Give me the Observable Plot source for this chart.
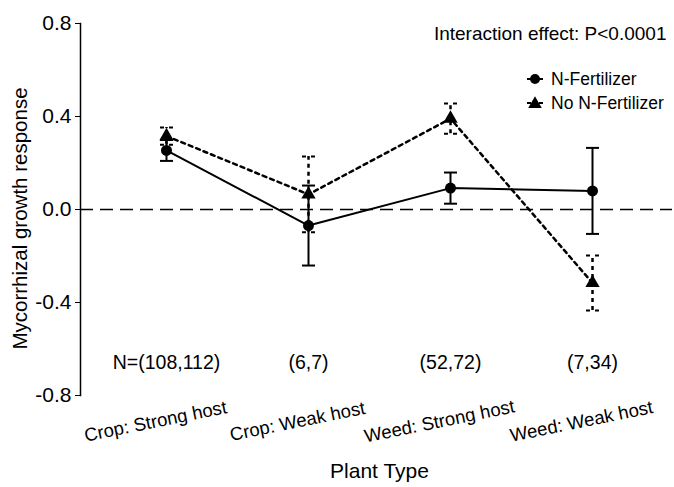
<!DOCTYPE html>
<html>
<head>
<meta charset="utf-8">
<script src="https://cdn.jsdelivr.net/npm/d3@7"></script>
<script src="https://cdn.jsdelivr.net/npm/@observablehq/plot@0.6"></script>
<style>
  html, body { margin: 0; padding: 0; background: #fff; }
  #chart svg { font-family: "Liberation Sans", Arial, Helvetica, sans-serif; }
</style>
</head>
<body>
<div id="chart"></div>
<script>
// ---- data ----
const categories = ["Crop: Strong host", "Crop: Weak host", "Weed: Strong host", "Weed: Weak host"];
const nFertMean = [0.254, -0.069, 0.092, 0.080];
const nFertErr  = [0.045, 0.172, 0.067, 0.185];
const noFertMean = [0.316, 0.065, 0.391, -0.316];
const noFertErr  = [0.037, 0.163, 0.065, 0.118];
const sampleSizes = ["N=(108,112)", "(6,7)", "(52,72)", "(7,34)"];
const yTicks = [-0.8, -0.4, 0, 0.4, 0.8];
const seriesNames = ["N-Fertilizer", "No N-Fertilizer"];
const annotation = "Interaction effect: P<0.0001";

const fert = categories.map((c, i) => ({cat: c, mean: nFertMean[i], lo: nFertMean[i] - nFertErr[i], hi: nFertMean[i] + nFertErr[i]}));
const nofert = categories.map((c, i) => ({cat: c, mean: noFertMean[i], lo: noFertMean[i] - noFertErr[i], hi: noFertMean[i] + noFertErr[i]}));
const nLabels = categories.map((c, i) => ({cat: c, label: sampleSizes[i]}));

const dotted = "4,4";

// horizontal-line symbol for error-bar caps (half-width = r)
const capSymbol = {
  draw(context, size) {
    const w = Math.sqrt(size / Math.PI);
    context.moveTo(-w, 0);
    context.lineTo(w, 0);
  }
};

function legend(index, scales, values, dim) {
  const g = d3.create("svg:g");
  const x0 = dim.width - 147, rows = [79, 103];
  rows.forEach((y, i) => {
    g.append("line").attr("x1", x0).attr("x2", x0 + 16).attr("y1", y).attr("y2", y)
      .attr("stroke", "black").attr("stroke-width", 2)
      .attr("stroke-dasharray", i === 1 ? "4,2" : null);
    if (i === 0) {
      g.append("circle").attr("cx", x0 + 8).attr("cy", y).attr("r", 5).attr("fill", "black");
    } else {
      g.append("path").attr("transform", `translate(${x0 + 8},${y + 1})`)
        .attr("d", d3.symbol(d3.symbolTriangle, 80)()).attr("fill", "black");
    }
    g.append("text").attr("x", x0 + 24).attr("y", y).attr("dy", "0.35em")
      .attr("text-anchor", "start")
      .attr("font-size", 17.5).attr("fill", "black").text(seriesNames[i]);
  });
  return g.node();
}

const chart = Plot.plot({
  width: 674,
  height: 487,
  marginTop: 23,
  marginBottom: 92,
  marginLeft: 80,
  marginRight: 2,
  style: {fontFamily: "'Liberation Sans', Arial, sans-serif", color: "black"},
  x: {type: "point", domain: categories, range: [166, 592], padding: 0, axis: null},
  y: {domain: [-0.8, 0.8], axis: null},
  marks: [
    Plot.frame({anchor: "left", strokeWidth: 1.5}),
    Plot.axisY({
      ticks: yTicks, tickFormat: d => d.toFixed(1), tickSize: 5, tickPadding: 4,
      fontSize: 21, label: null
    }),
    Plot.text(["Mycorrhizal growth response"], {
      frameAnchor: "left", rotate: -90, dx: -60, dy: 9, fontSize: 20.5, textAnchor: "middle", lineAnchor: "middle"
    }),
    Plot.ruleY([0], {strokeDasharray: "13,7", strokeWidth: 1.5}),
    // error bars: N-Fertilizer (solid)
    Plot.ruleX(fert, {x: "cat", y1: "lo", y2: "hi", strokeWidth: 2}),
    Plot.dot(fert, {x: "cat", y: "lo", symbol: capSymbol, r: 6.5, stroke: "black", fill: "none", strokeWidth: 2}),
    Plot.dot(fert, {x: "cat", y: "hi", symbol: capSymbol, r: 6.5, stroke: "black", fill: "none", strokeWidth: 2}),
    // error bars: No N-Fertilizer (dotted)
    Plot.ruleX(nofert, {x: "cat", y1: "lo", y2: "hi", strokeWidth: 2.5, strokeDasharray: dotted}),
    Plot.dot(nofert, {x: "cat", y: "lo", symbol: capSymbol, r: 6.5, stroke: "black", fill: "none", strokeWidth: 2, strokeDasharray: "4,5"}),
    Plot.dot(nofert, {x: "cat", y: "hi", symbol: capSymbol, r: 6.5, stroke: "black", fill: "none", strokeWidth: 2, strokeDasharray: "4,5"}),
    // lines
    Plot.line(fert, {x: "cat", y: "mean", strokeWidth: 2}),
    Plot.line(nofert, {x: "cat", y: "mean", strokeWidth: 2.5, strokeDasharray: dotted}),
    // markers
    Plot.dot(fert, {x: "cat", y: "mean", r: 5.5, fill: "black", symbol: "circle"}),
    Plot.dot(nofert, {x: "cat", y: "mean", r: 5.3, fill: "black", symbol: "triangle"}),
    // sample sizes
    Plot.text(nLabels, {x: "cat", text: "label", frameAnchor: "bottom", lineAnchor: "middle", dy: -33, fontSize: 19.5}),
    // category labels
    Plot.text(categories, {x: d => d, text: d => d, frameAnchor: "bottom", lineAnchor: "middle", dy: 26, dx: -11, rotate: -11.5, fontSize: 18.5}),
    // x axis label
    Plot.text(["Plant Type"], {frameAnchor: "bottom", lineAnchor: "middle", dy: 76, dx: 3, fontSize: 21}),
    // annotation
    Plot.text([annotation], {frameAnchor: "top-right", lineAnchor: "middle", dx: -6, dy: 10, fontSize: 19, textAnchor: "end"}),
    legend
  ]
});
document.getElementById("chart").append(chart);
</script>
</body>
</html>
